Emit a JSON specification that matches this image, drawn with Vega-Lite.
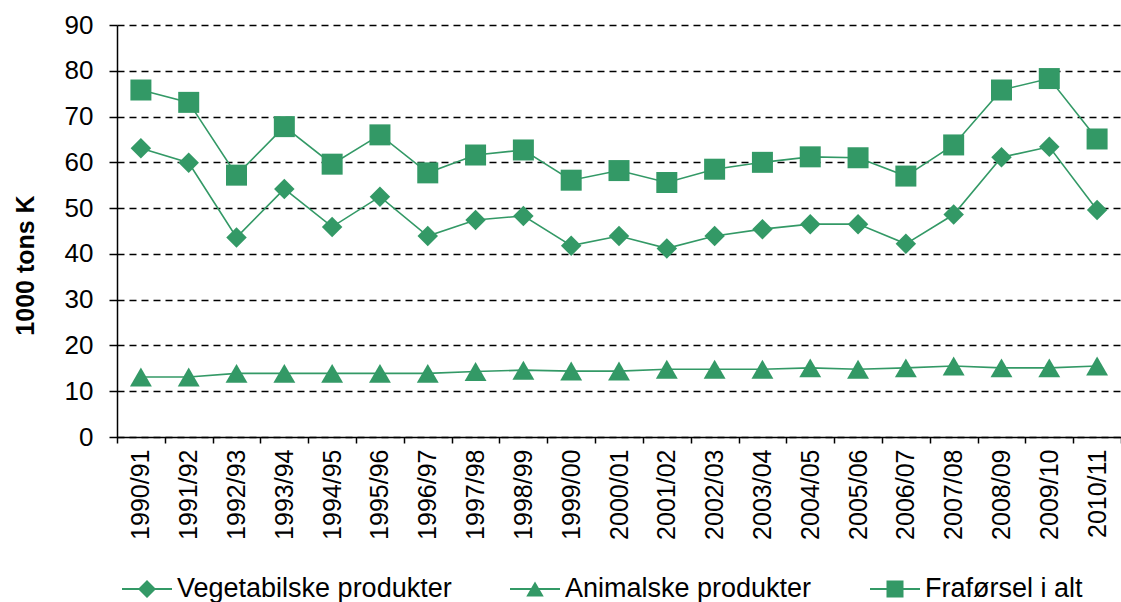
{
  "$schema": "https://vega.github.io/schema/vega-lite/v6.json",
  "width": 1004,
  "height": 412,
  "autosize": {"type": "none"},
  "padding": {"left": 117, "top": 25, "right": 0, "bottom": 165},
  "background": "white",
  "config": {"view": {"stroke": null}, "font": "Liberation Sans"},
  "datasets": {
    "d": [
      {"period": "1990/91", "series": "Vegetabilske produkter", "value": 63.1},
      {"period": "1991/92", "series": "Vegetabilske produkter", "value": 59.9},
      {"period": "1992/93", "series": "Vegetabilske produkter", "value": 43.6},
      {"period": "1993/94", "series": "Vegetabilske produkter", "value": 54.2},
      {"period": "1994/95", "series": "Vegetabilske produkter", "value": 45.9},
      {"period": "1995/96", "series": "Vegetabilske produkter", "value": 52.5},
      {"period": "1996/97", "series": "Vegetabilske produkter", "value": 43.9},
      {"period": "1997/98", "series": "Vegetabilske produkter", "value": 47.4},
      {"period": "1998/99", "series": "Vegetabilske produkter", "value": 48.3},
      {"period": "1999/00", "series": "Vegetabilske produkter", "value": 41.8},
      {"period": "2000/01", "series": "Vegetabilske produkter", "value": 43.9},
      {"period": "2001/02", "series": "Vegetabilske produkter", "value": 41.2},
      {"period": "2002/03", "series": "Vegetabilske produkter", "value": 43.9},
      {"period": "2003/04", "series": "Vegetabilske produkter", "value": 45.4},
      {"period": "2004/05", "series": "Vegetabilske produkter", "value": 46.5},
      {"period": "2005/06", "series": "Vegetabilske produkter", "value": 46.5},
      {"period": "2006/07", "series": "Vegetabilske produkter", "value": 42.2},
      {"period": "2007/08", "series": "Vegetabilske produkter", "value": 48.6},
      {"period": "2008/09", "series": "Vegetabilske produkter", "value": 61.1},
      {"period": "2009/10", "series": "Vegetabilske produkter", "value": 63.4},
      {"period": "2010/11", "series": "Vegetabilske produkter", "value": 49.6},
      {"period": "1990/91", "series": "Animalske produkter", "value": 13.1},
      {"period": "1991/92", "series": "Animalske produkter", "value": 13.1},
      {"period": "1992/93", "series": "Animalske produkter", "value": 13.9},
      {"period": "1993/94", "series": "Animalske produkter", "value": 13.9},
      {"period": "1994/95", "series": "Animalske produkter", "value": 13.9},
      {"period": "1995/96", "series": "Animalske produkter", "value": 13.9},
      {"period": "1996/97", "series": "Animalske produkter", "value": 13.9},
      {"period": "1997/98", "series": "Animalske produkter", "value": 14.3},
      {"period": "1998/99", "series": "Animalske produkter", "value": 14.6},
      {"period": "1999/00", "series": "Animalske produkter", "value": 14.4},
      {"period": "2000/01", "series": "Animalske produkter", "value": 14.4},
      {"period": "2001/02", "series": "Animalske produkter", "value": 14.8},
      {"period": "2002/03", "series": "Animalske produkter", "value": 14.8},
      {"period": "2003/04", "series": "Animalske produkter", "value": 14.8},
      {"period": "2004/05", "series": "Animalske produkter", "value": 15.1},
      {"period": "2005/06", "series": "Animalske produkter", "value": 14.8},
      {"period": "2006/07", "series": "Animalske produkter", "value": 15.1},
      {"period": "2007/08", "series": "Animalske produkter", "value": 15.5},
      {"period": "2008/09", "series": "Animalske produkter", "value": 15.1},
      {"period": "2009/10", "series": "Animalske produkter", "value": 15.1},
      {"period": "2010/11", "series": "Animalske produkter", "value": 15.5},
      {"period": "1990/91", "series": "Fraførsel i alt", "value": 75.8},
      {"period": "1991/92", "series": "Fraførsel i alt", "value": 73.1},
      {"period": "1992/93", "series": "Fraførsel i alt", "value": 57.2},
      {"period": "1993/94", "series": "Fraførsel i alt", "value": 67.8},
      {"period": "1994/95", "series": "Fraførsel i alt", "value": 59.6},
      {"period": "1995/96", "series": "Fraførsel i alt", "value": 66.0},
      {"period": "1996/97", "series": "Fraførsel i alt", "value": 57.7},
      {"period": "1997/98", "series": "Fraførsel i alt", "value": 61.6},
      {"period": "1998/99", "series": "Fraførsel i alt", "value": 62.7},
      {"period": "1999/00", "series": "Fraførsel i alt", "value": 56.1},
      {"period": "2000/01", "series": "Fraførsel i alt", "value": 58.2},
      {"period": "2001/02", "series": "Fraførsel i alt", "value": 55.6},
      {"period": "2002/03", "series": "Fraførsel i alt", "value": 58.5},
      {"period": "2003/04", "series": "Fraførsel i alt", "value": 60.0},
      {"period": "2004/05", "series": "Fraførsel i alt", "value": 61.2},
      {"period": "2005/06", "series": "Fraførsel i alt", "value": 61.0},
      {"period": "2006/07", "series": "Fraførsel i alt", "value": 57.0},
      {"period": "2007/08", "series": "Fraførsel i alt", "value": 63.8},
      {"period": "2008/09", "series": "Fraførsel i alt", "value": 75.8},
      {"period": "2009/10", "series": "Fraførsel i alt", "value": 78.3},
      {"period": "2010/11", "series": "Fraførsel i alt", "value": 65.1}
    ]
  },
  "data": {"name": "d"},
  "encoding": {
    "x": {
      "field": "period",
      "type": "ordinal",
      "sort": null,
      "scale": {"type": "band", "paddingInner": 0, "paddingOuter": 0},
      "axis": {
        "title": null,
        "labelAngle": -90,
        "labelFontSize": 25,
        "labelColor": "black",
        "labelPadding": 6,
        "tickBand": "extent",
        "tickSize": 6,
        "tickColor": "black",
        "tickWidth": 1.5,
        "domainColor": "black",
        "domainWidth": 1.5,
        "grid": false
      }
    },
    "y": {
      "field": "value",
      "type": "quantitative",
      "scale": {"domain": [0, 90], "nice": false},
      "axis": {
        "values": [0, 10, 20, 30, 40, 50, 60, 70, 80, 90],
        "grid": true,
        "gridColor": "black",
        "gridDash": [7, 5],
        "gridWidth": 1.6,
        "domainColor": "black",
        "domainWidth": 1.5,
        "tickColor": "black",
        "tickSize": 8,
        "tickWidth": 1.5,
        "labelFontSize": 26,
        "labelColor": "black",
        "labelPadding": 16,
        "title": "1000 tons K",
        "titleFontSize": 25,
        "titleFontWeight": "bold",
        "titleColor": "black",
        "titleAngle": -90,
        "titleX": -92,
        "titleY": 240,
        "titleAlign": "center",
        "titleBaseline": "middle"
      }
    }
  },
  "layer": [
    {
      "mark": {"type": "line", "color": "#339966", "strokeWidth": 1.6},
      "encoding": {"detail": {"field": "series", "type": "nominal"}}
    },
    {
      "mark": {"type": "point", "filled": true, "color": "#339966", "opacity": 1},
      "encoding": {
        "shape": {
          "field": "series",
          "type": "nominal",
          "scale": {
            "domain": ["Vegetabilske produkter", "Animalske produkter", "Fraførsel i alt"],
            "range": ["diamond", "triangle-up", "square"]
          },
          "legend": null
        },
        "size": {
          "field": "series",
          "type": "ordinal",
          "scale": {
            "type": "ordinal",
            "domain": ["Vegetabilske produkter", "Animalske produkter", "Fraførsel i alt"],
            "range": [420, 480, 441]
          },
          "legend": null
        }
      }
    },
    {
      "mark": {"type": "point", "filled": true, "fill": "#339966", "stroke": "#339966", "strokeWidth": 2, "opacity": 0},
      "encoding": {
        "shape": {
          "field": "series",
          "type": "nominal",
          "scale": {
            "domain": ["Vegetabilske produkter", "Animalske produkter", "Fraførsel i alt"],
            "range": [
              "M-1,-0.04L1,-0.04L1,0.04L-1,0.04ZM0,-0.36L0.36,0L0,0.36L-0.36,0Z",
              "M-1,-0.04L1,-0.04L1,0.04L-1,0.04ZM0,-0.3L0.35,0.3L-0.35,0.3Z",
              "M-1,-0.04L1,-0.04L1,0.04L-1,0.04ZM-0.34,-0.34L0.34,-0.34L0.34,0.34L-0.34,0.34Z"
            ]
          },
          "legend": {
            "title": null,
            "orient": "none",
            "direction": "horizontal",
            "legendX": 5,
            "legendY": 539,
            "padding": 0,
            "labelFontSize": 27,
            "labelColor": "black",
            "labelLimit": 0,
            "labelOffset": 5,
            "columnPadding": 58,
            "symbolSize": 2500,
            "symbolStrokeWidth": 0,
            "symbolOpacity": 1,
            "symbolFillColor": "#339966",
            "symbolStrokeColor": "#339966"
          }
        }
      }
    }
  ],
  "resolve": {"scale": {"shape": "independent"}}
}
